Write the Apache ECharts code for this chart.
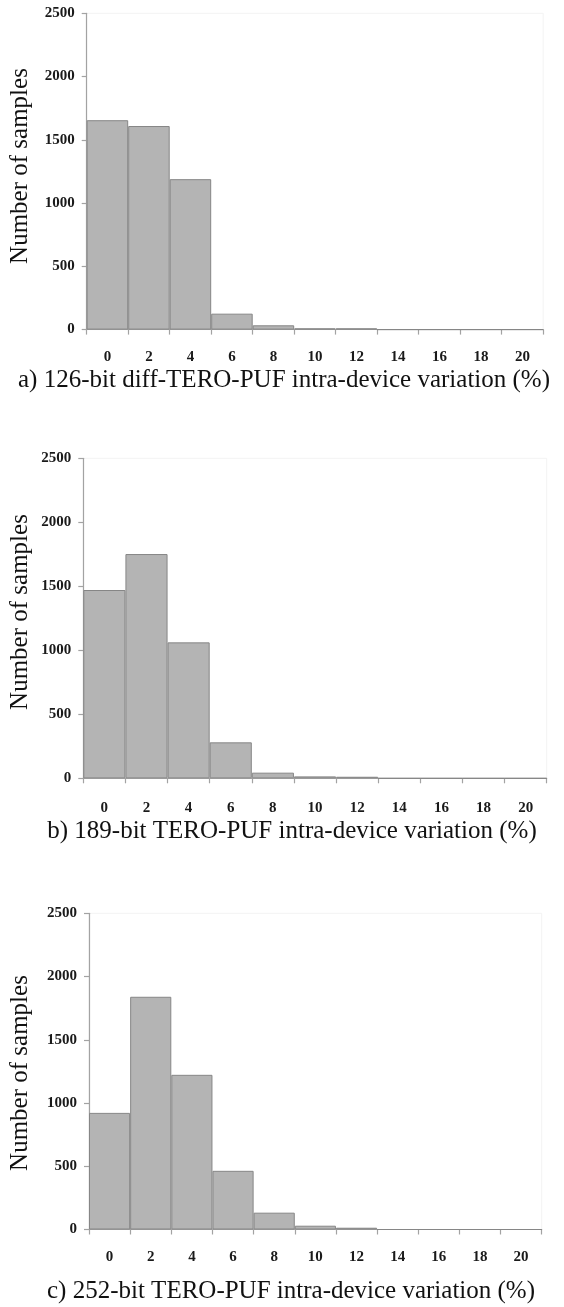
<!DOCTYPE html>
<html>
<head>
<meta charset="utf-8">
<script src="https://cdn.jsdelivr.net/npm/echarts/dist/echarts.min.js"></script>
<style>
html,body{margin:0;padding:0;background:#fff;}
#chart{width:564px;height:1307px;}
</style>
</head>
<body>
<div id="chart"></div>
<script>
// ---- data ----
var categories = ['0', '2', '4', '6', '8', '10', '12', '14', '16', '18', '20'];
var valuesA = [1655, 1609, 1189, 126, 34, 10, 10, 0, 0, 0, 0];
var valuesB = [1471, 1752, 1062, 281, 44, 15, 12, 0, 0, 0, 0];
var valuesC = [922, 1840, 1223, 464, 133, 30, 14, 0, 0, 0, 0];
var yTicks = [0, 500, 1000, 1500, 2000, 2500];
var titles = [
  'a) 126-bit diff-TERO-PUF intra-device variation (%)',
  'b) 189-bit TERO-PUF intra-device variation (%)',
  'c) 252-bit TERO-PUF intra-device variation (%)'
];
var yName = 'Number of samples';

// ---- layout ----
var grids = [
  {left: 86.7, top: 13.3, width: 456.5, height: 316.3},
  {left: 83.3, top: 458.3, width: 463.4, height: 320},
  {left: 89, top: 913.3, width: 452.7, height: 316.2}
];
var titlePos = [[284, 380], [292, 831], [291, 1291]];
var yNamePos = [[20, 166], [20, 612], [20, 1073]];
var labelMargins = [20, 22, 20];
var allValues = [valuesA, valuesB, valuesC];

var serif = '"Liberation Serif", "Times New Roman", serif';
var axisColor = '#a3a3a3';

var xAxes = [], yAxes = [], series = [], graphic = [];
for (var i = 0; i < 3; i++) {
  xAxes.push({
    type: 'category', gridIndex: i, data: categories, boundaryGap: true,
    axisLine: {show: true, lineStyle: {color: axisColor, width: 1.2}},
    axisTick: {show: true, interval: 0, alignWithLabel: false, length: 5, lineStyle: {color: axisColor, width: 1.2}},
    axisLabel: {interval: 0, margin: labelMargins[i], color: '#1a1a1a', fontFamily: serif, fontWeight: 'bold', fontSize: 15},
    splitLine: {show: false}
  });
  yAxes.push({
    type: 'value', gridIndex: i, min: yTicks[0], max: yTicks[yTicks.length - 1], interval: 500,
    axisLine: {show: true, lineStyle: {color: axisColor, width: 1.2}},
    axisTick: {show: true, length: 5, lineStyle: {color: axisColor, width: 1.2}},
    axisLabel: {margin: 12, color: '#1a1a1a', fontFamily: serif, fontWeight: 'bold', fontSize: 15,
      formatter: function (v) { return String(v); }},
    splitLine: {show: false}
  });
  series.push({
    type: 'bar', xAxisIndex: i, yAxisIndex: i, data: allValues[i],
    barCategoryGap: '0%', barGap: '0%',
    itemStyle: {color: '#b4b4b4', borderColor: '#868686', borderWidth: 1},
    emphasis: {disabled: true}, animation: false
  });
  graphic.push({
    type: 'text', x: titlePos[i][0], y: titlePos[i][1],
    style: {text: titles[i], font: '25px ' + serif, fill: '#111', textAlign: 'center', textVerticalAlign: 'middle'}
  });
  graphic.push({
    type: 'text', x: yNamePos[i][0], y: yNamePos[i][1], rotation: Math.PI / 2,
    style: {text: yName, font: '25px ' + serif, fill: '#111', textAlign: 'center', textVerticalAlign: 'middle'}
  });
}

var chart = echarts.init(document.getElementById('chart'), null, {renderer: 'canvas'});
chart.setOption({
  backgroundColor: '#ffffff',
  animation: false,
  grid: grids.map(function (g) { return Object.assign({containLabel: false, show: true, borderColor: '#f3f3f3', borderWidth: 1, backgroundColor: 'transparent'}, g); }),
  xAxis: xAxes,
  yAxis: yAxes,
  series: series,
  graphic: graphic
});
</script>
</body>
</html>
